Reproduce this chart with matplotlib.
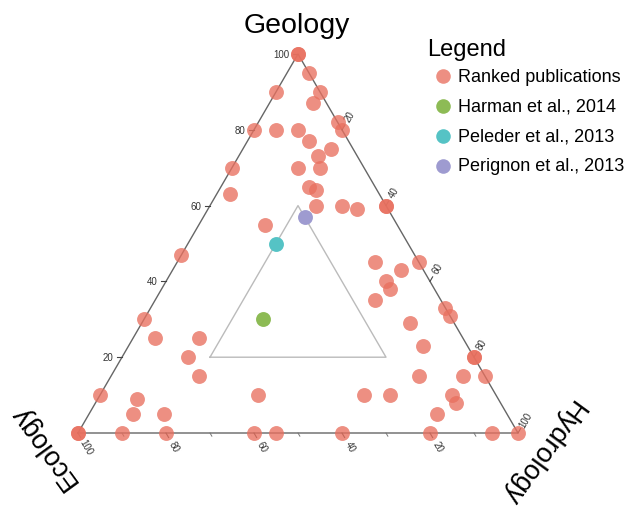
import numpy as np
import matplotlib.pyplot as plt
from matplotlib.lines import Line2D

plt.rcParams['font.family'] = ['Liberation Sans', 'DejaVu Sans']

# Composition of each ranked publication (percent)
geology = [100, 100, 95, 90, 90, 87, 82, 80, 80, 80, 80, 77, 75, 73, 70, 70, 70, 63,
           65, 64, 60, 60, 59, 55, 60, 60, 45, 45, 43, 40, 38, 35, 33, 31, 29, 23,
           20, 20, 15, 15, 15, 10, 10, 10, 8, 5, 0, 0, 0, 0, 47, 30, 25, 25, 20,
           15, 10, 9, 5, 5, 10, 0, 0, 0, 0, 0, 0]
hydrology = [0, 0, 5, 0, 10, 10, 18, 20, 0, 5, 10, 14, 20, 18, 20, 15, 0, 3,
             20, 22, 24, 30, 34, 15, 40, 40, 55, 45, 52, 50, 52, 50, 67, 69, 61, 67,
             80, 80, 70, 80, 85, 60, 66, 80, 82, 79, 60, 80, 94, 100, 0, 0, 5, 15, 15,
             20, 0, 9, 10, 17, 36, 0, 0, 10, 20, 40, 45]
ecology = [100 - g - h for g, h in zip(geology, hydrology)]

# Highlighted studies
studies = ["Harman et al., 2014", "Peleder et al., 2013", "Perignon et al., 2013"]
study_geology = [30, 50, 57]
study_hydrology = [27, 20, 23]
study_colors = ["#8DBB55", "#55C3C5", "#9E9BD0"]
ranked_color = "#E8705F"

# inner region: every component at least 20 %
inner_min = 20

tick_values = [20, 40, 60, 80, 100]
minor_values = [10, 30, 50, 70, 90]

H3 = np.sqrt(3) / 2


def to_xy(g, h):
    g = np.asarray(g, dtype=float) / 100
    h = np.asarray(h, dtype=float) / 100
    return h + g / 2, g * H3


fig = plt.figure(figsize=(6.32, 5.10), dpi=100)
ax = fig.add_axes([0, 0, 1, 1])
ax.set_xlim(-78 / 440, 554 / 440)
ax.set_ylim(-76 / 437.6, 434 / 437.6)
ax.axis('off')

# outer triangle
ax.plot([0, 1, 0.5, 0], [0, 0, H3, 0], color="#666666", lw=1.0, zorder=1)

# inner triangle
m = inner_min
ix, iy = to_xy([m, m, 100 - 2 * m, m], [m, 100 - 2 * m, m, m])
ax.plot(ix, iy, color="#BBBBBB", lw=1.0, zorder=1)

# ticks and labels
tl = 0.012
dist = 0.036
dx, dy = np.cos(np.radians(-60)), np.sin(np.radians(-60))
ex, ey = np.cos(np.radians(60)), np.sin(np.radians(60))
for v in tick_values:
    # geology on the left edge
    gx, gy = to_xy(v, 0)
    ax.plot([gx, gx - tl], [gy, gy], color="#444444", lw=0.8, zorder=1)
    ax.text(gx - 0.02, gy, str(v), ha='right', va='center', fontsize=7,
            color="#333333")
    # ecology on the bottom edge
    x, y = to_xy(0, 100 - v)
    ax.plot([x, x + tl * dx], [y, y + tl * dy], color="#444444", lw=0.8, zorder=1)
    ax.text(x + dist * dx, y + dist * dy, str(v), ha='center', va='center',
            fontsize=7, rotation=-60, color="#333333")
    # hydrology on the right edge
    x2, y2 = to_xy(100 - v, v)
    ax.plot([x2, x2 + tl * ex], [y2, y2 + tl * ey], color="#444444", lw=0.8, zorder=1)
    ax.text(x2 + dist * ex, y2 + dist * ey, str(v), ha='center', va='center',
            fontsize=7, rotation=60, color="#333333")
for v in minor_values:
    x, y = to_xy(0, 100 - v)
    ax.plot([x, x + tl * dx * 0.7], [y, y + tl * dy * 0.7], color="#777777",
            lw=0.7, zorder=1)

# ranked publications
px, py = to_xy(geology, hydrology)
ax.scatter(px, py, s=115, color=ranked_color, alpha=0.78, linewidths=0, zorder=3,
           clip_on=False)

# highlighted studies
for g, h, c in zip(study_geology, study_hydrology, study_colors):
    sx, sy = to_xy(g, h)
    ax.scatter([sx], [sy], s=115, color=c, linewidths=0, zorder=4)

# vertex labels
fig.text(297 / 632, 1 - 26 / 510, "Geology", ha='center', va='center', fontsize=20.5)
fig.text(44 / 632, 1 - 447 / 510, "Ecology", ha='center', va='center', fontsize=19.5,
         rotation=126, rotation_mode='anchor')
fig.text(541 / 632, 1 - 452 / 510, "Hydrology", ha='center', va='center', fontsize=19.5,
         rotation=234, rotation_mode='anchor')

# legend
fig.text(427 / 632, 1 - 50 / 510, "Legend", ha='left', va='center', fontsize=17)
labels = ["Ranked publications"] + studies
colors = [ranked_color] + study_colors
for i, (lab, c) in enumerate(zip(labels, colors)):
    yy = 1 - (77 + 30 * i) / 510
    fig.add_artist(Line2D([443 / 632], [yy], marker='o', markersize=10.5, color=c,
                          alpha=0.78 if i == 0 else 1.0, markeredgewidth=0,
                          transform=fig.transFigure))
    fig.text(458 / 632, yy, lab, ha='left', va='center', fontsize=13)

fig.savefig("out.png", dpi=100)
